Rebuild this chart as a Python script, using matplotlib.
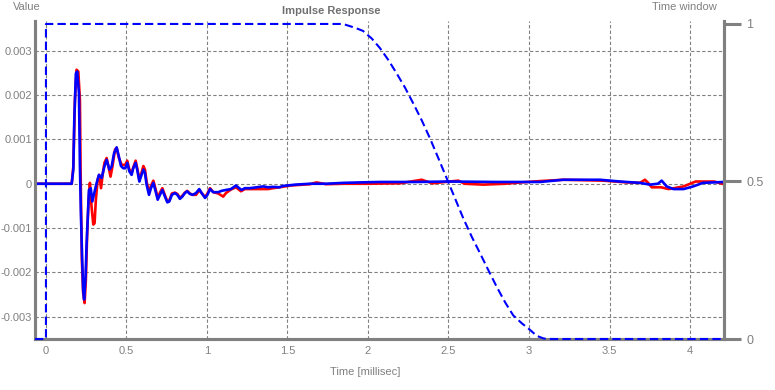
import numpy as np
import matplotlib
matplotlib.use('Agg')
import matplotlib.pyplot as plt

plt.rcParams['font.family'] = ['Liberation Sans', 'DejaVu Sans']

# Respuesta al impulso, canal azul (tiempo en ms, valor en unidades de 1e-3)
t_azul = [-0.068, 0.160, 0.170, 0.176, 0.186, 0.194, 0.205, 0.211, 0.217, 0.225,
          0.231, 0.237, 0.246, 0.252, 0.260, 0.267, 0.278, 0.288, 0.300, 0.315,
          0.329, 0.346, 0.363, 0.377, 0.394, 0.408, 0.423, 0.439, 0.453, 0.466,
          0.480, 0.493, 0.505, 0.518, 0.532, 0.542, 0.557, 0.567, 0.580, 0.590,
          0.605, 0.615, 0.625, 0.640, 0.652, 0.667, 0.681, 0.694, 0.708, 0.723,
          0.739, 0.754, 0.766, 0.782, 0.801, 0.816, 0.832, 0.847, 0.863, 0.877,
          0.894, 0.911, 0.932, 0.952, 0.967, 0.988, 1.003, 1.019, 1.039, 1.070,
          1.091, 1.118, 1.149, 1.180, 1.200, 1.215, 1.235, 1.267, 1.308, 1.350,
          1.380, 1.410, 1.450, 1.470, 1.550, 1.640, 1.740, 1.847, 1.950, 2.075,
          2.300, 2.500, 2.800, 3.068, 3.213, 3.441, 3.565, 3.689, 3.752, 3.800,
          3.824, 3.855, 3.897, 3.960, 4.020, 4.080, 4.211]
v_azul = [0.00, 0.00, 0.32, 1.44, 2.49, 2.53, 2.04, 0.39, -0.66, -1.71,
          -2.39, -2.61, -2.09, -1.41, -0.74, -0.14, -0.10, -0.40, -0.21, 0.02,
          0.20, 0.13, 0.39, 0.54, 0.32, 0.39, 0.69, 0.82, 0.61, 0.40,
          0.35, 0.35, 0.47, 0.28, 0.20, 0.35, 0.47, 0.31, 0.05, 0.16,
          0.32, 0.24, -0.02, -0.25, -0.10, 0.02, -0.17, -0.36, -0.25, -0.14,
          -0.29, -0.42, -0.40, -0.25, -0.21, -0.25, -0.34, -0.29, -0.21, -0.17,
          -0.23, -0.25, -0.21, -0.12, -0.21, -0.32, -0.25, -0.12, -0.19, -0.19,
          -0.16, -0.14, -0.12, -0.04, -0.10, -0.14, -0.10, -0.10, -0.08, -0.06,
          -0.08, -0.07, -0.08, -0.05, -0.02, 0.00, 0.00, 0.02, 0.03, 0.04,
          0.04, 0.05, 0.04, 0.04, 0.09, 0.09, 0.05, 0.02, -0.02, 0.00,
          0.07, -0.06, -0.12, -0.12, -0.06, 0.02, 0.04]

# Respuesta al impulso, canal rojo
t_rojo = [-0.068, 0.160, 0.170, 0.180, 0.190, 0.201, 0.211, 0.215, 0.223, 0.231,
          0.240, 0.248, 0.256, 0.265, 0.273, 0.283, 0.294, 0.302, 0.310, 0.321,
          0.331, 0.342, 0.352, 0.363, 0.377, 0.388, 0.401, 0.413, 0.429, 0.439,
          0.453, 0.470, 0.491, 0.505, 0.518, 0.532, 0.545, 0.557, 0.567, 0.580,
          0.590, 0.605, 0.615, 0.625, 0.640, 0.652, 0.667, 0.681, 0.694, 0.708,
          0.723, 0.739, 0.754, 0.766, 0.782, 0.801, 0.816, 0.832, 0.847, 0.863,
          0.877, 0.894, 0.911, 0.932, 0.952, 0.967, 0.988, 1.003, 1.019, 1.039,
          1.070, 1.101, 1.118, 1.149, 1.180, 1.211, 1.235, 1.267, 1.308, 1.350,
          1.380, 1.410, 1.450, 1.520, 1.640, 1.680, 1.740, 1.850, 2.000, 2.200,
          2.333, 2.400, 2.561, 2.600, 2.716, 2.850, 2.950, 3.068, 3.213, 3.461,
          3.606, 3.689, 3.720, 3.740, 3.762, 3.820, 3.866, 3.900, 3.960, 4.035,
          4.150, 4.211]
v_rojo = [0.00, 0.00, 0.39, 1.89, 2.57, 2.53, 1.89, 0.32, -1.71, -2.46,
          -2.69, -2.16, -1.11, -0.36, 0.02, -0.51, -0.92, -0.89, -0.36, 0.09,
          0.20, -0.10, 0.20, 0.47, 0.58, 0.39, 0.16, 0.39, 0.77, 0.81,
          0.58, 0.43, 0.42, 0.52, 0.32, 0.24, 0.40, 0.52, 0.35, 0.10,
          0.20, 0.40, 0.32, 0.05, -0.20, -0.05, 0.07, -0.12, -0.32, -0.20,
          -0.10, -0.26, -0.40, -0.38, -0.22, -0.20, -0.23, -0.32, -0.27, -0.20,
          -0.16, -0.22, -0.25, -0.25, -0.15, -0.21, -0.30, -0.22, -0.10, -0.19,
          -0.22, -0.29, -0.21, -0.13, -0.08, -0.17, -0.12, -0.12, -0.12, -0.12,
          -0.12, -0.10, -0.08, -0.04, -0.01, 0.03, -0.01, 0.00, 0.00, 0.01,
          0.09, 0.01, 0.07, 0.00, -0.02, 0.00, 0.03, 0.06, 0.09, 0.07,
          0.03, 0.02, 0.09, 0.02, -0.08, -0.08, -0.12, -0.10, -0.06, 0.05,
          0.05, -0.01]

# Ventana temporal (eje derecho)
t_ventana = [-0.068, 0.0, 0.0, 1.845, 1.919, 1.969, 2.023, 2.075, 2.126, 2.178,
             2.230, 2.281, 2.333, 2.385, 2.437, 2.489, 2.540, 2.592, 2.644, 2.696,
             2.747, 2.799, 2.851, 2.902, 2.955, 3.006, 3.048, 3.089, 3.110, 4.211]
v_ventana = [0.0, 0.0, 1.0, 1.0, 0.988, 0.978, 0.954, 0.923, 0.886, 0.843,
             0.798, 0.748, 0.695, 0.637, 0.574, 0.510, 0.447, 0.383, 0.325, 0.272,
             0.219, 0.166, 0.117, 0.075, 0.050, 0.029, 0.010, 0.002, 0.0, 0.0]

gris = '#808080'

fig = plt.figure(figsize=(7.75, 3.9), dpi=100)
ax = fig.add_axes([35 / 775, 51 / 390, 689 / 775, 318.5 / 390])

ax.plot(t_rojo, np.array(v_rojo) * 1e-3, color='#ff0000', lw=1.9, zorder=3)
ax.plot(t_azul, np.array(v_azul) * 1e-3, color='#0000ff', lw=1.9, zorder=4)

ax.set_xlim(-0.068, 4.211)
ax.set_ylim(-0.0035, 0.00368)
ax.set_xticks([0, 0.5, 1, 1.5, 2, 2.5, 3, 3.5, 4])
ax.set_xticklabels(['0', '0.5', '1', '1.5', '2', '2.5', '3', '3.5', '4'])
ax.set_yticks([-0.003, -0.002, -0.001, 0, 0.001, 0.002, 0.003])
ax.set_yticklabels(['-0.003', '-0.002', '-0.001', '0', '0.001', '0.002', '0.003'])
ax.grid(True, color=gris, linestyle=(0, (3, 2)), lw=0.8)
ax.tick_params(axis='both', length=0, colors=gris, labelsize=8)
ax.tick_params(axis='y', pad=2)
ax.tick_params(axis='x', pad=5)

# Eje derecho de la ventana temporal
ax2 = ax.twinx()
ax2.plot(t_ventana, v_ventana, color='#0000ff', lw=1.5, linestyle=(0, (4, 2)),
         clip_on=False, zorder=5)
ax2.set_ylim(0, 1.011)
ax2.set_yticks([0, 0.5, 1])
ax2.set_yticklabels(['0', '0.5', '1'])
ax2.tick_params(axis='y', direction='out', length=12, width=2.2, colors=gris,
                labelsize=9, pad=4)

for a in (ax, ax2):
    a.spines['top'].set_visible(False)
    for s in ('left', 'right', 'bottom'):
        a.spines[s].set_color(gris)
        a.spines[s].set_linewidth(2.2)

fig.text(331 / 775, 1 - 11 / 390, 'Impulse Response', ha='center', va='center',
         fontsize=8, fontweight='bold', color='#707070')
fig.text(13 / 775, 1 - 7 / 390, 'Value', ha='left', va='center', fontsize=8, color=gris)
fig.text(684 / 775, 1 - 7 / 390, 'Time window', ha='center', va='center',
         fontsize=8, color=gris)
fig.text(365 / 775, 1 - 372 / 390, 'Time [millisec]', ha='center', va='center',
         fontsize=8, color=gris)

fig.savefig('out.png', dpi=100)
